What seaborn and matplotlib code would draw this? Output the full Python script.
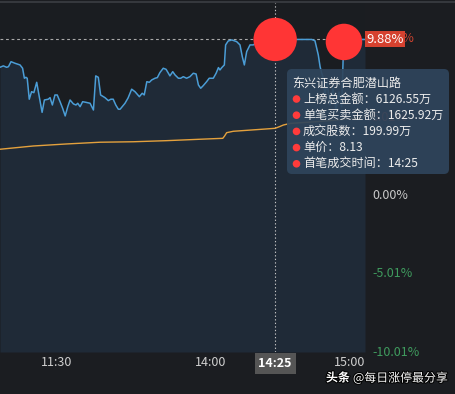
import matplotlib
matplotlib.use('Agg')
import matplotlib.pyplot as plt
import matplotlib.transforms as mtransforms
from matplotlib.patches import FancyBboxPatch, Circle
from matplotlib.lines import Line2D
import matplotlib.patheffects as pe
import seaborn as sns

# ---------------- data ----------------
# trading minutes since 9:30 (11:30 == 13:00 == 120, 15:00 == 240)
minutes = [97.8, 99.1, 100.4, 101.1, 102.1, 103.6, 105.6, 106.6, 107.3, 107.9, 108.4,
           109.2, 110.1, 111.0, 112.1, 113.1, 114.2, 115.1, 116.6, 117.3, 118.2, 119.2,
           120.1, 121.2, 122.2, 123.2, 124.2, 125.1, 126.4, 127.4, 128.1, 129.0, 130.0,
           131.3, 132.9, 134.2, 135.1, 136.1, 137.0, 138.7, 140.0, 141.0, 141.9, 142.9,
           143.9, 144.6, 146.5, 147.7, 149.1, 150.4, 152.1, 153.2, 154.0, 155.0, 156.0,
           156.9, 158.2, 159.1, 160.1, 161.4, 162.5, 163.4, 164.0, 165.1, 166.0, 167.3,
           168.2, 169.2, 170.5, 171.8, 173.1, 174.2, 175.1, 176.0, 177.0, 178.3, 179.3,
           180.9, 182.0, 182.9, 183.5, 184.2, 185.2, 185.7, 186.7, 188.1, 190.0, 191.3,
           192.2, 193.0, 193.9, 195.2, 196.5, 199.1, 205.0, 210.8, 213.4, 216.0, 219.2,
           220.5, 221.8, 222.5, 223.1, 223.6, 224.4, 225.2, 226.4, 227.5, 228.7, 229.9,
           230.9, 231.5, 232.2, 234.2, 240.0]
price_pct = [8.10, 8.19, 8.10, 8.14, 8.46, 8.36, 8.25, 8.04, 7.40, 7.46, 7.40,
             6.06, 6.54, 6.48, 7.14, 6.22, 5.22, 6.01, 6.06, 6.16, 5.69, 6.33,
             6.33, 5.90, 5.48, 4.99, 5.58, 6.01, 5.76, 5.69, 5.80, 5.58, 5.90,
             5.86, 5.80, 5.37, 7.55, 7.46, 6.33, 6.16, 5.97, 6.06, 6.06, 5.69,
             5.42, 5.42, 5.80, 6.14, 6.70, 6.54, 6.22, 6.44, 6.33, 7.18, 7.14,
             7.29, 7.40, 7.44, 7.76, 8.04, 7.97, 7.72, 7.55, 7.82, 7.61, 7.40,
             7.40, 7.50, 7.40, 7.50, 7.72, 7.67, 6.97, 6.76, 6.93, 7.18, 7.40,
             7.40, 7.72, 8.08, 7.93, 8.08, 8.25, 9.53, 9.78, 9.85, 9.74, 9.53,
             8.78, 8.25, 9.10, 9.53, 9.53, 9.85, 9.88, 9.88, 9.88, 9.88, 9.88,
             9.80, 8.89, 8.14, 7.74, 7.50, 6.33, 7.16, 5.69, 6.78, 5.37, 6.52,
             5.58, 8.70, 9.85, 9.88, 9.88]

avg_minutes = [97.8, 110.8, 123.8, 136.8, 149.7, 162.7, 175.7, 184.6, 185.3, 186.1,
               188.7, 201.7, 205.0, 206.9, 208.2, 210.8, 222.5, 230.3, 240.0]
avg_pct = [2.86, 3.07, 3.20, 3.31, 3.34, 3.41, 3.50, 3.56, 3.71, 3.92,
           4.01, 4.16, 4.20, 4.32, 4.41, 4.51, 4.64, 4.75, 4.92]

x_tick_pos = [120, 180, 240]
x_tick_labels = ['11:30', '14:00', '15:00']
y_tick_pos = [10.01, 5.01, 0.0, -5.01, -10.01]
y_tick_labels = ['10.01%', '5.01%', '0.00%', '-5.01%', '-10.01%']

trade_minutes = [205.0, 231.8]
trade_pct = [9.88, 9.72]
trade_amount = [6126.55, 4500.0]

cross_minute = 205.0
cross_time_label = '14:25'
cross_pct = 9.88
cross_pct_label = '9.88%'

tooltip_title = '东兴证券合肥潜山路'
tooltip_lines = ['上榜总金额：6126.55万', '单笔买卖金额：1625.92万', '成交股数：199.99万',
                 '单价：8.13', '首笔成交时间：14:25']
watermark_bold = '头条'
watermark_rest = '@每日涨停最分享'

# ---------------- style ----------------
W, H = 455, 394
BG = '#1b1d21'
sns.set_theme(style='dark')
plt.rcParams['font.family'] = ['Noto Sans CJK SC', 'DejaVu Sans']
plt.rcParams['axes.unicode_minus'] = False

fig = plt.figure(figsize=(W / 100, H / 100), dpi=100, facecolor=BG)
ax = fig.add_axes([0, 1 - 352 / H, 365 / W, (352 - 3) / H])
ax.set_facecolor('#1a1d21')
YMIN, YMAX = -10.10, 12.21
ax.set_xlim(97.8, 240)
ax.set_ylim(YMIN, YMAX)
ax.grid(False)
for s in ax.spines.values():
    s.set_visible(False)

# area under price line
ax.fill_between(minutes, price_pct, YMIN, color='#1f2a37', lw=0, zorder=1)
sns.lineplot(x=minutes, y=price_pct, color='#4b9dd6', lw=1.1, ax=ax, zorder=3)
sns.lineplot(x=avg_minutes, y=avg_pct, color='#e4a13d', lw=1.0, ax=ax, zorder=3)

# crosshair
ax.axvline(cross_minute, color='#c4c4c4', ls=(0, (1.2, 2)), lw=0.8, zorder=2)
ax.axhline(cross_pct, color='#a9a9a9', ls=(0, (2.5, 2.5)), lw=0.8, zorder=2)

# trade markers
sns.scatterplot(x=trade_minutes, y=trade_pct, size=trade_amount, sizes=(690, 975),
                color='#ff3535', linewidth=0, legend=False, ax=ax, zorder=5)

# ticks
ax.yaxis.tick_right()
ax.set_yticks(y_tick_pos, y_tick_labels)
ax.tick_params(axis='y', length=0, pad=5, labelsize=9)
for lab, v in zip(ax.get_yticklabels(), y_tick_pos):
    lab.set_color('#d0432f' if v > 0 else ('#c9c9c9' if v == 0 else '#3f9b5e'))
ax.set_xticks(x_tick_pos, x_tick_labels)
ax.tick_params(axis='x', length=0, pad=3, labelsize=9, colors='#cfcfcf')
ax.get_xticklabels()[-1].set_ha('right')
ax.set_xlabel('')
ax.set_ylabel('')

# crosshair labels
ax.text(1.003, cross_pct, cross_pct_label, transform=mtransforms.blended_transform_factory(ax.transAxes, ax.transData),
        ha='left', va='center', color='white', fontsize=9.3, zorder=10, clip_on=False,
        bbox=dict(boxstyle='square,pad=0.12', fc='#d5412f', ec='none'))
ax.text(cross_minute, -0.033, cross_time_label,
        transform=mtransforms.blended_transform_factory(ax.transData, ax.transAxes),
        ha='center', va='center', color='white', fontsize=9, fontweight='bold', clip_on=False,
        zorder=10, bbox=dict(boxstyle='square,pad=0.3', fc='#555555', ec='none'))

# tooltip
ident = mtransforms.IdentityTransform()
tip = FancyBboxPatch((287, H - 174), 162, 105, boxstyle='round,pad=0,rounding_size=5',
                     transform=ident, fc='#2f455c', ec='none', alpha=0.92, zorder=20)
fig.add_artist(tip)
fig.text(292 / W, 1 - 83 / H, tooltip_title, color='#ececec', fontsize=8.7,
         ha='left', va='center', zorder=21)
for i, line in enumerate(tooltip_lines):
    yy = 99 + i * 16.2
    fig.add_artist(Circle((296.5, H - yy), 3.8, transform=ident, fc='#ff3b3b', ec='none', zorder=21))
    fig.text(303 / W, 1 - yy / H, line, color='#ececec', fontsize=8.7,
             ha='left', va='center', zorder=21)

# top border line
fig.add_artist(Line2D([0, 1], [1 - 2.2 / H, 1 - 2.2 / H], transform=fig.transFigure,
                      color='#3b3e43', lw=1.2))

# watermark
shadow = [pe.withStroke(linewidth=1.5, foreground='#000000')]
fig.text(326 / W, 1 - 378 / H, watermark_bold, color='white', fontsize=8.6, fontweight='bold',
         ha='left', va='center', path_effects=shadow)
fig.text(353 / W, 1 - 378 / H, watermark_rest, color='white', fontsize=8.6,
         ha='left', va='center', path_effects=shadow)

fig.savefig('out.png', dpi=100, facecolor=BG)
